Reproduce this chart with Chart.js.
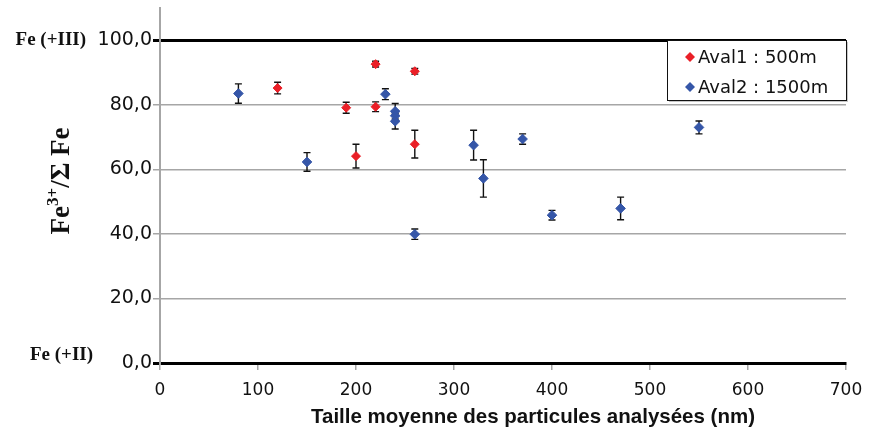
<!DOCTYPE html>
<html lang="fr">
<head>
<meta charset="utf-8">
<title>Fe3+/ΣFe</title>
<script src="https://cdn.jsdelivr.net/npm/chart.js@4.4.1/dist/chart.umd.min.js"></script>
<style>
  html, body { margin: 0; padding: 0; background: #fff; }
  #wrap { width: 869px; height: 432px; position: relative; }
</style>
</head>
<body>
<div id="wrap"><canvas id="feChart"></canvas></div>
<script>
// Aval1 : 500m
const aval1Size  = [120, 190, 200, 220, 220, 260, 260];
const aval1Ratio = [85.2, 79.1, 64.1, 92.6, 79.4, 90.4, 67.8];
const aval1Err   = [1.8, 1.7, 3.7, 0.9, 1.5, 0.9, 4.3];

// Aval2 : 1500m
const aval2Size  = [80, 150, 230, 240, 240, 240, 260, 320, 330, 370, 400, 470, 550];
const aval2Ratio = [83.5, 62.3, 83.3, 78.0, 76.6, 74.9, 39.9, 67.5, 57.2, 69.4, 45.8, 47.9, 73.0];
const aval2Err   = [3.0, 2.9, 1.7, 2.4, 1.5, 2.4, 1.6, 4.6, 5.8, 1.6, 1.5, 3.5, 2.0];

const xTicks = [0, 100, 200, 300, 400, 500, 600, 700];
const yTicks = [0, 20, 40, 60, 80, 100];

const RED  = '#ea1f27';
const BLUE = '#3556a8';
const GRID = '#a6a6a6';

const toPoints = (xs, ys) => xs.map((x, i) => ({ x, y: ys[i] }));

// vertical error bars with small caps, drawn under the markers
const errorBars = {
  id: 'errorBars',
  beforeDatasetsDraw(chart) {
    const { ctx, scales: { x, y } } = chart;
    ctx.save();
    ctx.strokeStyle = '#111';
    ctx.lineWidth = 1.4;
    chart.data.datasets.forEach(ds => {
      ds.data.forEach((p, i) => {
        const e   = ds.errors[i];
        const px  = x.getPixelForValue(p.x);
        const top = y.getPixelForValue(p.y + e);
        const bot = y.getPixelForValue(p.y - e);
        ctx.beginPath();
        ctx.moveTo(px, top);       ctx.lineTo(px, bot);
        ctx.moveTo(px - 3.5, top); ctx.lineTo(px + 3.5, top);
        ctx.moveTo(px - 3.5, bot); ctx.lineTo(px + 3.5, bot);
        ctx.stroke();
      });
    });
    ctx.restore();
  }
};

// axis titles and the Fe(+III) / Fe(+II) end labels
const axisLabels = {
  id: 'axisLabels',
  afterDraw(chart) {
    const { ctx, scales: { y } } = chart;
    ctx.save();
    ctx.fillStyle = '#111';

    ctx.font = 'bold 19px "Liberation Serif", "Times New Roman", serif';
    ctx.textAlign = 'right';
    ctx.textBaseline = 'middle';
    ctx.fillText('Fe (+III)', 86, y.getPixelForValue(100));
    ctx.fillText('Fe (+II)', 93, y.getPixelForValue(0) - 8);

    // Fe3+/Σ Fe, rotated, with superscript
    const big = 'bold 27px "Liberation Serif", "Times New Roman", serif';
    const sup = 'bold 17px "Liberation Serif", "Times New Roman", serif';
    ctx.font = big; const w1 = ctx.measureText('Fe').width;
    ctx.font = sup; const w2 = ctx.measureText('3+').width;
    ctx.font = big; const w3 = ctx.measureText('/\u03A3 Fe').width;
    const total = w1 + w2 + w3;
    ctx.translate(60, 181);
    ctx.rotate(-Math.PI / 2);
    ctx.textAlign = 'left';
    ctx.textBaseline = 'alphabetic';
    let cx = -total / 2;
    ctx.font = big; ctx.fillText('Fe', cx, 9); cx += w1;
    ctx.font = sup; ctx.fillText('3+', cx, -2); cx += w2;
    ctx.font = big; ctx.fillText('/\u03A3 Fe', cx, 9);
    ctx.setTransform(1, 0, 0, 1, 0, 0);

    ctx.font = 'bold 20.5px "Liberation Sans", Arial, sans-serif';
    ctx.textAlign = 'center';
    ctx.textBaseline = 'middle';
    ctx.fillText('Taille moyenne des particules analysées (nm)', 533, 417);
    ctx.restore();
  }
};

// boxed legend in the upper right corner
const boxLegend = {
  id: 'boxLegend',
  afterDatasetsDraw(chart) {
    const { ctx } = chart;
    const left = 667, top = 40, w = 179, h = 60;
    ctx.save();
    ctx.fillStyle = 'rgba(0,0,0,0.22)';
    ctx.fillRect(left + 2, top + 2, w, h);
    ctx.fillStyle = '#fff';
    ctx.fillRect(left, top, w, h);
    ctx.strokeStyle = '#111';
    ctx.lineWidth = 1;
    ctx.strokeRect(left + 0.5, top + 0.5, w, h);
    ctx.font = '18px "DejaVu Sans", sans-serif';
    ctx.textAlign = 'left';
    ctx.textBaseline = 'middle';
    chart.data.datasets.forEach((ds, i) => {
      const cy = 57 + i * 30;
      ctx.fillStyle = ds.backgroundColor;
      ctx.beginPath();
      ctx.moveTo(690, cy - 5); ctx.lineTo(695, cy);
      ctx.lineTo(690, cy + 5); ctx.lineTo(685, cy);
      ctx.closePath();
      ctx.fill();
      ctx.fillStyle = '#111';
      ctx.fillText(ds.label, 698, cy + 1);
    });
    ctx.restore();
  }
};

new Chart(document.getElementById('feChart').getContext('2d'), {
  type: 'scatter',
  data: {
    datasets: [
      {
        label: 'Aval1 : 500m',
        data: toPoints(aval1Size, aval1Ratio),
        errors: aval1Err,
        backgroundColor: RED,
        borderColor: RED,
        borderWidth: 1,
        pointStyle: 'rectRot',
        pointRadius: 4.5
      },
      {
        label: 'Aval2 : 1500m',
        data: toPoints(aval2Size, aval2Ratio),
        errors: aval2Err,
        backgroundColor: BLUE,
        borderColor: BLUE,
        borderWidth: 1,
        pointStyle: 'rectRot',
        pointRadius: 4.8
      }
    ]
  },
  options: {
    responsive: true,
    maintainAspectRatio: false,
    animation: false,
    layout: { padding: { left: 0, right: 23, top: 8, bottom: 0 } },
    plugins: {
      legend: { display: false },
      tooltip: { enabled: false }
    },
    scales: {
      x: {
        type: 'linear',
        min: 0,
        max: 700,
        afterBuildTicks: s => { s.ticks = xTicks.map(v => ({ value: v })); },
        afterFit: s => { s.height = 69; s.paddingLeft = 0; s.paddingRight = 0; },
        border: { color: '#000', width: 3 },
        grid: { drawOnChartArea: false, color: GRID, lineWidth: 1.5, tickLength: 7 },
        ticks: {
          color: '#111',
          padding: 10,
          maxRotation: 0,
          font: { family: '"DejaVu Sans", sans-serif', size: 17 }
        }
      },
      y: {
        min: 0,
        max: 110,
        afterBuildTicks: s => { s.ticks = yTicks.map(v => ({ value: v })); },
        afterFit: s => { s.width = 160; s.paddingTop = 0; s.paddingBottom = 0; },
        border: { color: GRID, width: 2 },
        grid: {
          color: c => (c.tick && (c.tick.value === 100 || c.tick.value === 0)) ? '#000' : GRID,
          lineWidth: c => (c.tick && (c.tick.value === 100 || c.tick.value === 0)) ? 3 : 1.5,
          tickLength: 7
        },
        ticks: {
          color: '#111',
          padding: 1,
          font: { family: '"DejaVu Sans", sans-serif', size: 19 },
          callback: v => v.toFixed(1).replace('.', ',')
        }
      }
    }
  },
  plugins: [errorBars, boxLegend, axisLabels]
});
</script>
</body>
</html>
